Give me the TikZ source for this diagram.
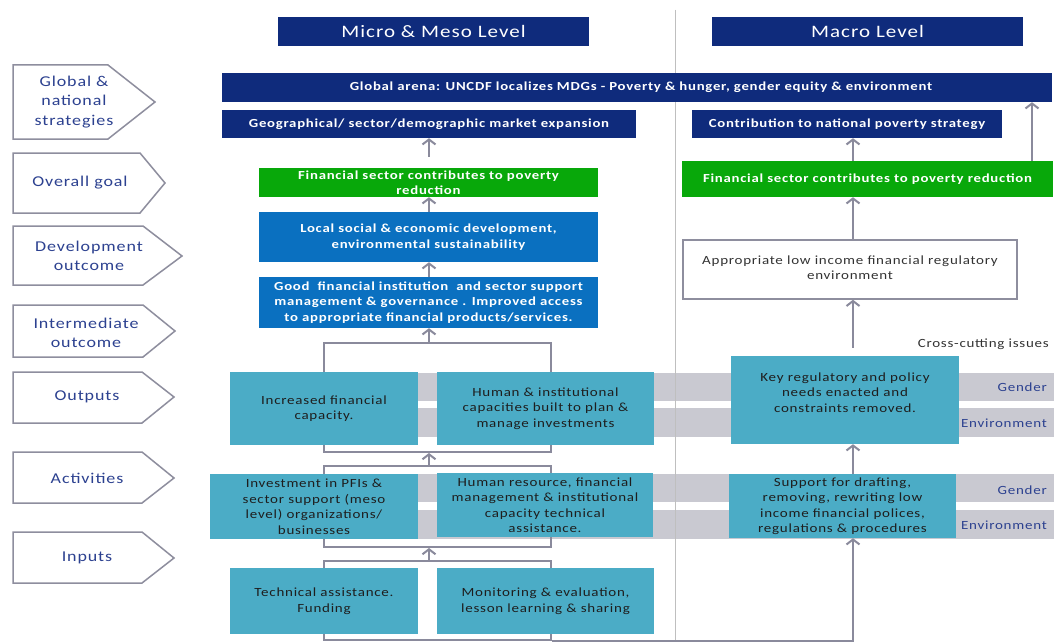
\documentclass[tikz,border=0pt]{standalone}
\usepackage{fontspec}
\setmainfont{Carlito}[FakeStretch=1.2,LetterSpace=6]
\usetikzlibrary{arrows.meta,calc}
\definecolor{navy}{HTML}{0F2B7C}
\definecolor{ggreen}{HTML}{08A80A}
\definecolor{bblue}{HTML}{0A70C0}
\definecolor{aqua}{HTML}{4BACC6}
\definecolor{bandgray}{HTML}{C9C9D1}
\definecolor{chevline}{HTML}{8E8E9E}
\definecolor{chevtext}{HTML}{2C4190}
\definecolor{arrgray}{HTML}{8A8A9C}
\definecolor{darktext}{HTML}{1E1E1E}
\definecolor{graytext}{HTML}{333333}
\tikzset{
  box/.style={inner sep=0pt, align=center, anchor=center},
  header/.style={box, fill=navy, text=white, font=\fontsize{17.5}{20}\selectfont},
  navybox/.style={box, fill=navy, text=white, font=\bfseries\fontsize{12.3}{15.5}\selectfont},
  greenbox/.style={box, fill=ggreen, text=white, font=\bfseries\fontsize{12.3}{15.5}\selectfont},
  bluebox/.style={box, fill=bblue, text=white, font=\bfseries\fontsize{12.3}{15.5}\selectfont},
  tealbox/.style={box, fill=aqua, text=darktext, font=\fontsize{12.5}{15.5}\selectfont},
  whitebox/.style={box, fill=white, draw=chevline, line width=1.5pt, text=graytext, font=\fontsize{12.5}{15.5}\selectfont},
  txt/.style={inner sep=0pt, align=center, text=darktext, font=\fontsize{12.5}{15.5}\selectfont},
  bracket/.style={draw=arrgray, line width=2pt, inner sep=0pt},
  arr/.style={draw=arrgray, line width=2pt, -{Straight Barb[length=5pt,width=13pt]}},
  chev/.style={draw=chevline, line width=1.5pt, fill=white, line join=miter},
  chevtxt/.style={inner sep=0pt, text=chevtext, align=center, font=\fontsize{15}{19.5}\selectfont},
  lbl/.style={inner sep=0pt, text=chevtext, anchor=east, font=\fontsize{12.5}{15}\selectfont},
  band/.style={fill=bandgray}
}
\begin{document}
\begin{tikzpicture}[x=1pt,y=-1pt]
\useasboundingbox (0,0) rectangle (1054,642);
\fill[white] (0,0) rectangle (1054,642);
% column coordinates
\coordinate (lc) at (429,0);
\coordinate (rc) at (853,0);
\coordinate (fc) at (1032,0);
% chevrons
\draw[chev] (13,65) -- (108,65) -- (155,102) -- (108,139) -- (13,139) -- cycle;
\node[chevtxt] (c1) at (74,102) {Global \&\\national\\strategies};
\draw[chev] (13,153) -- (140,153) -- (165,183) -- (140,213) -- (13,213) -- cycle;
\node[chevtxt] (c2) at (80,183) {Overall goal};
\draw[chev] (13,226) -- (143,226) -- (182,256) -- (143,285) -- (13,285) -- cycle;
\node[chevtxt] (c3) at (89,256) {Development\\outcome};
\draw[chev] (13,305) -- (143,305) -- (175,331) -- (143,357) -- (13,357) -- cycle;
\node[chevtxt] (c4) at (86,333) {Intermediate\\outcome};
\draw[chev] (13,372) -- (142,372) -- (174,397) -- (142,423) -- (13,423) -- cycle;
\node[chevtxt] (c5) at (87,397) {Outputs};
\draw[chev] (13,452) -- (142,452) -- (174,478) -- (142,503) -- (13,503) -- cycle;
\node[chevtxt] (c6) at (87,478) {Activities};
\draw[chev] (13,532) -- (142,532) -- (174,558) -- (142,583) -- (13,583) -- cycle;
\node[chevtxt] (c7) at (87,558) {Inputs};
% cross-cutting bands
\fill[band] (400,373) rectangle (1054,401);
\fill[band] (400,408) rectangle (1054,437);
\fill[band] (400,474) rectangle (1054,502);
\fill[band] (400,510) rectangle (1054,539);
% divider
\draw[black!25, line width=1pt] (675,10) -- (675,642);
% brackets
\node[bracket, minimum width=227, minimum height=109] (outB) at (437.5,397.5) {};
\node[bracket, minimum width=227, minimum height=81] (actB) at (437.5,506.5) {};
\node[bracket, minimum width=227, minimum height=79] (inB) at (437.5,600.5) {};
% headers
\node[header, minimum width=311, minimum height=29] (micro) at (433.5,31.5) {Micro \& Meso Level};
\node[header, minimum width=311, minimum height=29] (macro) at (867.5,31.5) {Macro Level};
% top bars
\node[navybox, minimum width=830, minimum height=29] (global) at (637,87.5) {};
\node[inner sep=0pt, text=white, font=\bfseries\fontsize{12.3}{15.5}\selectfont] (globaltext) at (641,87.5) {Global arena: UNCDF localizes MDGs - Poverty \& hunger, gender equity \& environment};
\node[navybox, minimum width=414, minimum height=28] (geo) at (429,124) {Geographical/ sector/demographic market expansion};
\node[navybox, minimum width=310, minimum height=28] (contrib) at (847,124) {Contribution to national poverty strategy};
\node[greenbox, minimum width=339, minimum height=29] (greenL) at (428.5,182.5) {Financial sector contributes to poverty\\reduction};
\node[greenbox, minimum width=371, minimum height=36] (greenR) at (867.5,179) {Financial sector contributes to poverty reduction};
\node[bluebox, minimum width=339, minimum height=50] (blue1) at (428.5,237) {Local social \& economic development,\\environmental sustainability};
\node[bluebox, minimum width=339, minimum height=51] (blue2) at (428.5,302.5) {Good\ \ financial institution\ \ and sector support\\management \& governance . Improved access\\to appropriate financial products/services.};
\node[whitebox, minimum width=334, minimum height=59] (approp) at (850,269.5) {};
\node[txt, text=graytext] (approptext) at ($(approp.center)+(0,-2)$) {Appropriate low income financial regulatory\\environment};
% teal boxes
\node[tealbox, minimum width=188, minimum height=73] (outL) at (324,408.5) {Increased financial\\capacity.};
\node[tealbox, minimum width=217, minimum height=73] (outR) at (545.5,408.5) {Human \& institutional\\capacities built to plan \&\\manage investments};
\node[tealbox, minimum width=228, minimum height=88] (key) at (845,400) {};
\node[txt] (keytext) at ($(key.center)+(0,-7.5)$) {Key regulatory and policy\\needs enacted and\\constraints removed.};
\node[tealbox, minimum width=208, minimum height=65] (actL) at (314,506.5) {Investment in PFIs \&\\sector support (meso\\level) organizations/\\businesses};
\node[tealbox, minimum width=216, minimum height=64] (actR) at (545,505) {Human resource, financial\\management \& institutional\\capacity technical\\assistance.};
\node[tealbox, minimum width=227, minimum height=64] (support) at (842.5,506) {Support for drafting,\\removing, rewriting low\\income financial polices,\\regulations \& procedures};
\node[tealbox, minimum width=188, minimum height=66] (inL) at (324,601) {Technical assistance.\\Funding};
\node[tealbox, minimum width=217, minimum height=66] (inR) at (545.5,601) {Monitoring \& evaluation,\\lesson learning \& sharing};
% labels
\node[inner sep=0pt, anchor=east, text=graytext, font=\fontsize{12.5}{15}\selectfont] (cross) at (1049,344) {Cross-cutting issues};
\node[lbl] (g1) at (1047,387) {Gender};
\node[lbl] (e1) at (1047,423) {Environment};
\node[lbl] (g2) at (1047,490) {Gender};
\node[lbl] (e2) at (1047,525) {Environment};
% left column arrows
\draw[arr, shorten <=11pt] (greenL.north -| lc) -- (geo.south -| lc);
\draw[arr] (blue1.north -| lc) -- (greenL.south -| lc);
\draw[arr] (blue2.north -| lc) -- (blue1.south -| lc);
\draw[arr] (outB.north -| lc) -- (blue2.south -| lc);
\draw[arr] (actB.north -| lc) -- (outB.south -| lc);
\draw[arr] (inB.north -| lc) -- (actB.south -| lc);
% right column arrows
\draw[arr] (inB.south east) -- (inB.south east -| rc) -- (support.south -| rc);
\draw[arr] (support.north -| rc) -- (key.south -| rc);
\draw[arr, shorten <=8pt] (key.north -| rc) -- (approp.south -| rc);
\draw[arr] (approp.north -| rc) -- (greenR.south -| rc);
\draw[arr] (greenR.north -| rc) -- (contrib.south -| rc);
\draw[arr] (greenR.north -| fc) -- (global.south -| fc);
\end{tikzpicture}
\end{document}
